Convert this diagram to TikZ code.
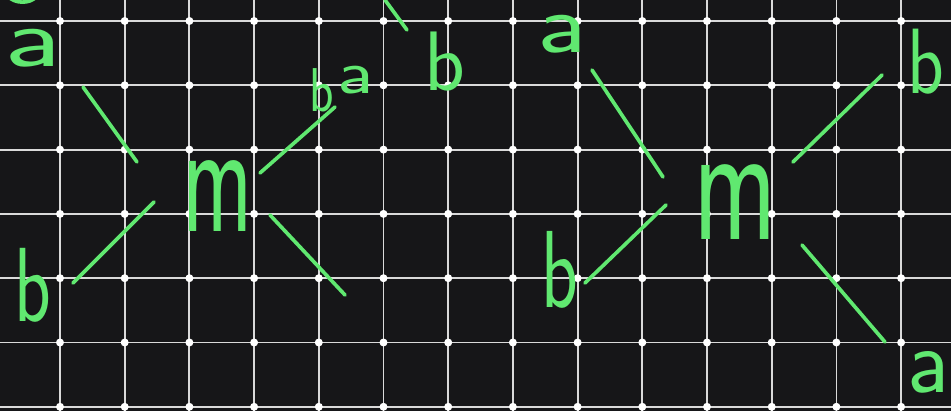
\documentclass[tikz,border=0pt]{standalone}
\usepackage{tikz}
\usetikzlibrary{calc}

\definecolor{board}{RGB}{22,22,24}
\definecolor{chalk}{RGB}{218,218,218}
\definecolor{marker}{RGB}{96,232,112}

\begin{document}
\begin{tikzpicture}[
    x=0.025cm, y=-0.025cm,
    gridline/.style={chalk, line width=1.3pt},
    knot/.style={circle, fill=white, inner sep=0pt, minimum size=2mm},
    leg/.style={marker, line width=2.6pt, line cap=round},
    lbl/.style={text=marker, inner sep=0pt, font=\fontsize{60}{60}\sffamily},
    amp/.style={text=marker, inner sep=0pt, font=\fontsize{64}{64}\sffamily}
  ]
  \useasboundingbox (0,0) rectangle (951,411);
  \fill[board] (0,0) rectangle (951,411);
  \clip (0,0) rectangle (951,411);

  % board grid
  \foreach \i in {0,...,14}
    \draw[gridline] ({60+64.7*\i},0) -- ({60+64.7*\i},411);
  \foreach \j in {0,...,6}
    \draw[gridline] (0,{21+64.3*\j}) -- (951,{21+64.3*\j});
  \foreach \i in {0,...,14}
    \foreach \j in {0,...,6}
      \node[knot] at ({60+64.7*\i},{21+64.3*\j}) {};

  % left diagram
  \node[amp] (mL) at (218,196) {\scalebox{1.05}[1.8]{m}};
  \node[lbl] (aL) at (33,48) {\scalebox{1.5}[1]{a}};
  \node[lbl] (bL) at (33,285) {\scalebox{0.9}[1.25]{b}};
  \node[lbl, font=\fontsize{40}{40}\sffamily] (bLr) at (322,90) {\scalebox{0.9}[1.1]{b}};
  \node[lbl, font=\fontsize{44}{44}\sffamily] (aLr) at (356,80) {\scalebox{1.3}[1]{a}};
  \node[lbl] (bLt) at (445,62) {b};

  \coordinate (la1) at (83,87);   \coordinate (la2) at (137,162);
  \coordinate (lb1) at (73,283);  \coordinate (lb2) at (154,202);
  \coordinate (lc1) at (260,173); \coordinate (lc2) at (335,107);
  \coordinate (ld1) at (270,215); \coordinate (ld2) at (345,295);
  \coordinate (le1) at (385,0);   \coordinate (le2) at (407,30);
  \draw[leg] (la1) -- (la2);
  \draw[leg] (lb1) -- (lb2);
  \draw[leg] (lc1) -- (lc2);
  \draw[leg] (ld1) -- (ld2);
  \draw[leg] (le1) -- (le2);
  \draw[leg] (8,-4) .. controls (14,4) and (30,4) .. (36,-3);

  % right diagram
  \node[amp] (mR) at (735,202) {\scalebox{1.25}[1.9]{m}};
  \node[lbl] (aR) at (562,34) {\scalebox{1.3}[1]{a}};
  \node[lbl] (bR) at (560,270) {\scalebox{0.9}[1.3]{b}};
  \node[lbl] (bRr) at (926,62) {\scalebox{0.9}[1.1]{b}};
  \node[lbl] (aRr) at (928,372) {\scalebox{1.1}[1.1]{a}};

  \coordinate (ra1) at (592,70);  \coordinate (ra2) at (663,177);
  \coordinate (rb1) at (585,283); \coordinate (rb2) at (666,205);
  \coordinate (rc1) at (793,162); \coordinate (rc2) at (882,75);
  \coordinate (rd1) at (802,245); \coordinate (rd2) at (885,342);
  \draw[leg] (ra1) -- (ra2);
  \draw[leg] (rb1) -- (rb2);
  \draw[leg] (rc1) -- (rc2);
  \draw[leg] (rd1) -- (rd2);
\end{tikzpicture}
\end{document}
